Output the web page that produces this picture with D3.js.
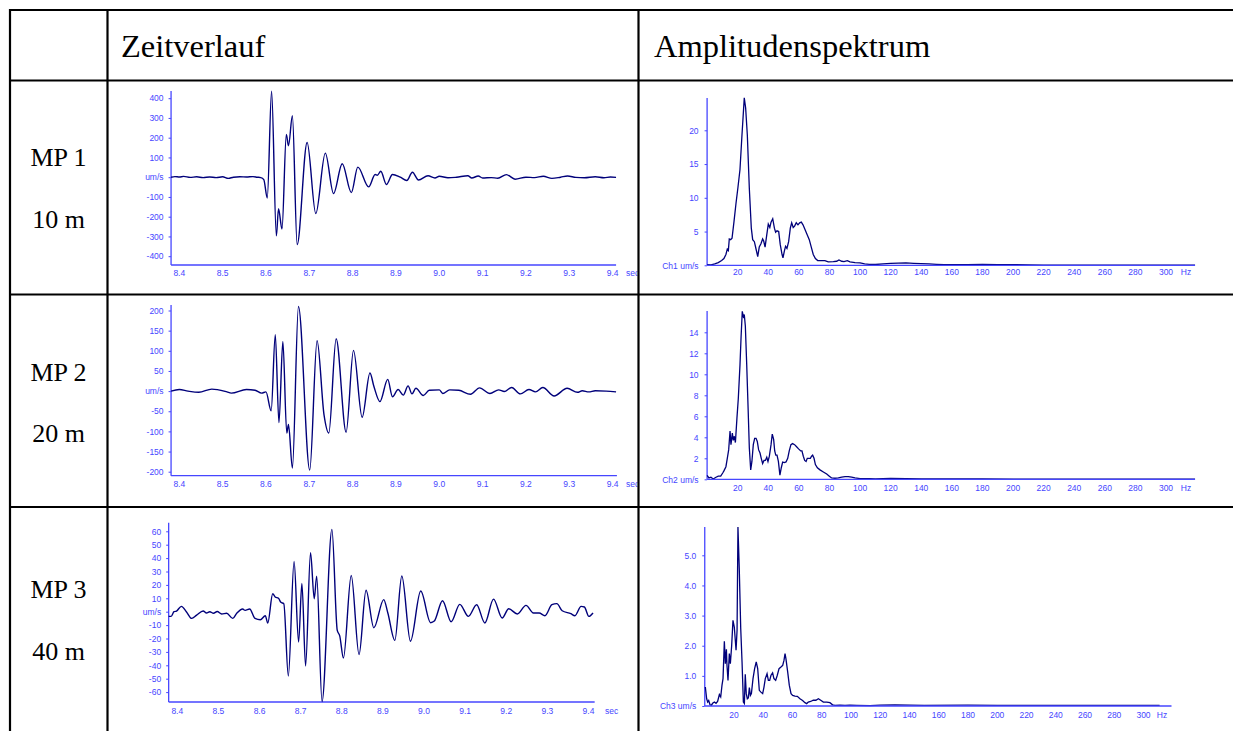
<!DOCTYPE html>
<html><head><meta charset="utf-8">
<script src="https://cdn.jsdelivr.net/npm/d3@7"></script>
<style>body{margin:0;background:#fff}svg{display:block}</style>
</head><body><svg id="c" width="1233" height="731"></svg>
<script>
// ---------- data ----------
const headers = ["Zeitverlauf", "Amplitudenspektrum"];
const rowLabels = ["MP 1", "MP 2", "MP 3"];
const distLabels = ["10 m", "20 m", "40 m"];
const timeTicks = [8.4, 8.5, 8.6, 8.7, 8.8, 8.9, 9.0, 9.1, 9.2, 9.3, 9.4];
const freqTicks = [20, 40, 60, 80, 100, 120, 140, 160, 180, 200, 220, 240, 260, 280, 300];
const velTicks1 = [400, 300, 200, 100, 0, -100, -200, -300, -400];
const velTicks2 = [200, 150, 100, 50, 0, -50, -100, -150, -200];
const velTicks3 = [60, 50, 40, 30, 20, 10, 0, -10, -20, -30, -40, -50, -60];
const ampTicks1 = [20, 15, 10, 5, 0];
const ampTicks2 = [14, 12, 10, 8, 6, 4, 2, 0];
const ampTicks3 = [5, 4, 3, 2, 1, 0];
const channelLabels = ["Ch1 um/s", "Ch2 um/s", "Ch3 um/s"];

const mp1Wave = [[8.381,0],[8.39,3],[8.40,1],[8.41,4],[8.425,-1],[8.44,2],[8.455,-2],[8.47,1],[8.485,-2],[8.50,2],[8.513,-6],[8.525,0],[8.54,2],[8.555,1],[8.57,3],[8.58,0],[8.588,-2],[8.595,-12],[8.603,-105],[8.613,435],[8.624,-297],[8.629,-159],[8.637,-263],[8.647,216],[8.652,159],[8.661,311],[8.672,-341],[8.695,176],[8.715,-184],[8.737,122],[8.756,-83],[8.776,68],[8.797,-78],[8.812,51],[8.837,-49],[8.852,14],[8.857,10],[8.865,30],[8.878,-37],[8.892,14],[8.91,0],[8.925,-17],[8.938,25],[8.952,-14],[8.974,7],[8.99,-4],[9.0,5],[9.02,-3],[9.04,0],[9.066,7],[9.075,-4],[9.09,6],[9.10,-4],[9.12,-2],[9.135,-5],[9.155,13],[9.175,-10],[9.2,0],[9.22,-2],[9.24,5],[9.26,-6],[9.28,0],[9.296,6],[9.315,-1],[9.335,-3],[9.36,2],[9.38,-3],[9.395,1],[9.408,-1]];
const mp2Wave = [[8.381,0],[8.40,4],[8.42,0],[8.445,-3],[8.475,5],[8.51,-2],[8.52,-5],[8.555,4],[8.575,2],[8.59,-5],[8.6,-2],[8.612,-49],[8.6215,140],[8.630,-78],[8.639,123],[8.648,-104],[8.652,-83],[8.661,-191],[8.675,210],[8.701,-196],[8.718,125],[8.734,-59],[8.745,-104],[8.762,130],[8.785,-102],[8.802,101],[8.822,-65],[8.84,45],[8.849,12],[8.863,-26],[8.881,29],[8.892,-14],[8.905,4],[8.917,-10],[8.928,13],[8.937,-7],[8.946,7],[8.963,-11],[8.977,2],[9.0,3],[9.008,-6],[9.024,3],[9.045,2],[9.072,-8],[9.093,8],[9.117,-6],[9.137,3],[9.15,-1],[9.167,9],[9.187,-7],[9.207,4],[9.222,-2],[9.239,9],[9.265,-12],[9.295,7],[9.319,-3],[9.33,1],[9.345,-2],[9.36,1],[9.385,0],[9.408,-2]];
const mp3Wave = [[8.379,-3.5],[8.385,-3.5],[8.392,0],[8.398,0.5],[8.41,4],[8.422,0],[8.435,-5],[8.447,-2.5],[8.463,0.5],[8.471,-1],[8.479,0],[8.488,-1.2],[8.497,0.2],[8.508,-1.7],[8.520,-1.2],[8.535,-5],[8.545,-1],[8.559,2],[8.565,1],[8.576,2],[8.589,-5],[8.602,-6],[8.614,-3],[8.620,-8.5],[8.632,13.4],[8.638,11],[8.646,10],[8.652,7],[8.659,6],[8.670,-48],[8.684,37.5],[8.695,-22.6],[8.703,21],[8.712,-40.5],[8.724,44],[8.733,9.7],[8.739,26.4],[8.752,-67],[8.776,61.4],[8.789,-14],[8.795,-18],[8.804,-34.6],[8.823,27],[8.842,-32],[8.859,16],[8.878,-12],[8.902,9],[8.912,-1],[8.929,-21.4],[8.946,26.6],[8.967,-22],[8.992,15.4],[9.016,-8.2],[9.025,-7],[9.045,8.2],[9.066,-7.5],[9.087,5.5],[9.108,-3.5],[9.128,5.2],[9.148,-8.4],[9.169,9.4],[9.19,-4.7],[9.206,2.2],[9.227,-1.7],[9.248,4.7],[9.266,-1],[9.28,-1],[9.294,-3],[9.311,5.2],[9.323,6],[9.336,0.7],[9.357,-1.5],[9.367,-3],[9.382,4],[9.39,3.5],[9.401,-3.5],[9.411,-1]];

const mp1Spec = [[0,0.1],[2.6,0.05],[5,0.2],[7.3,0.4],[9.5,0.7],[11,1.0],[12.3,1.6],[13.2,2.4],[13.9,2.2],[14.5,3.9],[15.4,3.8],[16.3,4.0],[17.6,6.5],[18.9,9.2],[20.2,11.6],[21.5,14.2],[22.8,19.3],[24.3,24.8],[25.2,23.3],[26.3,19.3],[27.6,11.4],[28.9,5.5],[29.8,3.8],[30.9,3.5],[31.8,2.6],[33.1,1.3],[34.1,2.7],[35.2,3.2],[36.3,3.9],[37,3.6],[37.9,2.7],[39,4.5],[40,6.1],[41,5.6],[41.8,6.4],[42.9,6.9],[44,5.5],[44.8,4.9],[45.7,5.1],[46.8,5.0],[47.8,3.1],[49,1.6],[49.6,1.1],[50.5,2.1],[51.3,2.8],[52.2,2.5],[53.3,3.5],[54.4,5.5],[55.3,6.3],[56.3,5.6],[57.2,5.8],[58.3,6.3],[59.4,6.0],[60.5,6.3],[61.6,6.4],[62.7,6.0],[64,5.3],[65.5,4.5],[66.8,3.8],[68.1,2.7],[69.4,1.6],[70.8,1.0],[72.3,0.7],[74.9,0.7],[77,0.7],[79.2,0.5],[82.5,0.55],[84.7,0.6],[86.2,0.8],[88,0.6],[89.5,0.55],[91.7,0.7],[93.4,0.5],[96.7,0.4],[100,0.35],[103,0.2],[106,0.15],[110,0.12],[115,0.2],[120,0.3],[125,0.32],[130,0.35],[135,0.3],[140,0.25],[145,0.2],[150,0.15],[155,0.1],[160,0.08],[170,0.1],[180,0.12],[190,0.08],[200,0.1],[210,0.05],[220,0.03],[240,0.02],[260,0.02],[280,0.02],[300,0.02],[319,0.02]];
const mp2Spec = [[0,0.38],[1.2,0.13],[2.5,0.2],[4,0.03],[5.8,0.2],[7.3,0.3],[8.9,0.3],[10.2,0.6],[11,0.8],[12.3,1.2],[13.2,2.0],[14.1,2.8],[15,4.6],[15.6,3.3],[16.5,4.4],[17.1,3.7],[17.8,4.1],[18.5,3.5],[19.5,5.8],[20.4,7.7],[21.5,10.9],[22.2,13.5],[23,16.0],[23.7,15.5],[24.3,15.7],[25,14.6],[25.9,10.9],[26.8,6.8],[27.6,3.0],[28.5,0.9],[29.3,1.7],[30.2,3.3],[31.1,3.9],[32,3.9],[32.8,3.6],[33.7,2.8],[34.6,2.5],[35.4,2.0],[36.3,1.5],[37.2,1.8],[38.1,1.8],[39,2.1],[39.8,1.7],[40.7,2.2],[41.8,3.3],[42.6,4.3],[43.5,3.8],[44.2,2.7],[44.9,2.3],[45.7,2.3],[46.6,1.7],[47.6,0.4],[48.5,1.1],[49.4,1.65],[50.5,1.6],[51.6,1.65],[52.7,2.0],[53.7,2.7],[54.8,3.3],[55.9,3.4],[57.2,3.3],[58.5,3.1],[59.8,2.9],[61.2,2.7],[62,2.7],[62.9,2.2],[63.8,1.8],[64.7,1.7],[65.5,2.0],[66.6,2.0],[67.5,2.0],[68.3,2.2],[69,2.3],[69.9,2.0],[70.8,1.4],[72.1,1.1],[73.8,0.9],[76,0.7],[78.2,0.5],[79.9,0.3],[81.4,0.13],[83.6,0.1],[85.8,0.13],[88,0.2],[90.2,0.25],[92.3,0.25],[94.5,0.2],[96.7,0.13],[100,0.06],[106,0.06],[110,0.05],[120,0.08],[130,0.06],[140,0.05],[150,0.05],[160,0.04],[180,0.03],[200,0.02],[250,0.02],[319,0.01]];
const mp3Spec = [[0.4,0.63],[1.3,0.24],[2,0.13],[2.7,0.18],[3.6,0.04],[4.5,0.02],[5.4,0.09],[6.6,0.13],[7.7,0.09],[8.8,0.15],[10,0.38],[10.9,0.3],[11.8,0.69],[12.5,0.91],[13.4,2.15],[14.1,1.4],[14.8,1.88],[15.2,1.35],[15.9,0.85],[16.8,1.74],[17.5,1.4],[18.4,2.0],[19.3,2.84],[20.2,2.62],[21.4,1.85],[22.1,2.51],[22.7,5.94],[23.6,4.56],[24.6,2.57],[25.5,1.46],[26.4,0.13],[27.1,0.08],[27.7,1.05],[28.4,0.41],[29.1,0.24],[29.8,0.27],[30.5,0.61],[31.2,0.35],[31.9,0.41],[33,0.91],[34.1,1.24],[35.2,1.46],[36.2,1.24],[37.3,0.52],[38.4,0.46],[39.6,0.41],[40.5,0.63],[41.4,0.91],[42.6,1.07],[43.5,0.85],[44.4,0.85],[45.3,1.02],[46.4,1.1],[47.3,0.91],[48.5,0.85],[49.6,1.02],[50.8,1.24],[52.1,1.29],[53.3,1.35],[54.2,1.52],[54.9,1.74],[55.5,1.57],[56.7,1.13],[57.8,0.69],[59,0.41],[60.1,0.35],[61.7,0.33],[63.3,0.32],[65.1,0.24],[66.9,0.18],[68.5,0.11],[69.7,0.08],[70.8,0.13],[72.4,0.15],[74.2,0.19],[76,0.19],[77.7,0.24],[79.3,0.19],[81.1,0.13],[83.4,0.13],[85.6,0.11],[87.4,0.04],[89,0.02],[92.5,0.03],[95.9,0.02],[99.3,0.03],[103.9,0.02],[113,0.01],[120,0.03],[130,0.04],[150,0.02],[180,0.03],[200,0.02],[250,0.02],[300,0.02],[311,0.02]];

// ---------- layout ----------
const BLUE = "#4646ff", TRACE = "#00007a";
const svg = d3.select("#c");

const rows = [
  {top: 80.5, bottom: 294.5, mp: 166, dist: 228},
  {top: 294.5, bottom: 507, mp: 381, dist: 442},
  {top: 507, bottom: 760, mp: 598, dist: 660}
];

const timeCharts = [
  {data: mp1Wave, ticks: velTicks1, xr: [179.3, 612.6], yd: [400, -400], yr: [98.2, 256.2], ax: [8.381, 9.408], ay: [91, 265], lab: 275.5, sec: 626},
  {data: mp2Wave, ticks: velTicks2, xr: [179.3, 612.6], yd: [200, -200], yr: [310.5, 471.7], ax: [8.381, 9.41], ay: [305, 475.7], lab: 486.5, sec: 626},
  {data: mp3Wave, ticks: velTicks3, xr: [177.3, 588.5], yd: [60, -60], yr: [531.3, 692.1], ax: [8.379, 9.415], ay: [522.7, 702], lab: 713.5, sec: 605}
];
const specCharts = [
  {data: mp1Spec, ticks: ampTicks1, fmt: d => d, xr: [707.1, 1166], yd: [0, 20], yr: [265.3, 130.3], ax: 1195, top: 98, lab: 275, hz: 1186},
  {data: mp2Spec, ticks: ampTicks2, fmt: d => d, xr: [707.1, 1166], yd: [0, 14], yr: [479.3, 332.3], ax: 1195, top: 311, lab: 490.5, hz: 1186},
  {data: mp3Spec, ticks: ampTicks3, fmt: d => d.toFixed(1), xr: [704.75, 1143.5], yd: [0, 5], yr: [706, 555.3], ax: 1171.5, top: 527, lab: 718, hz: 1162}
];

const defs = svg.append("defs");
rows.forEach((r, i) => {
  defs.append("clipPath").attr("id", "ct" + i).append("rect")
    .attr("x", 108.5).attr("y", r.top).attr("width", 529).attr("height", r.bottom - r.top);
  defs.append("clipPath").attr("id", "cs" + i).append("rect")
    .attr("x", 639.5).attr("y", r.top).attr("width", 600).attr("height", r.bottom - r.top);
});

const tickFont = "Liberation Sans, Arial, sans-serif";

timeCharts.forEach((c, i) => {
  const g = svg.append("g").attr("clip-path", `url(#ct${i})`)
    .attr("font-family", tickFont).attr("font-size", 8.5).attr("fill", BLUE);
  const x = d3.scaleLinear().domain([8.4, 9.4]).range(c.xr);
  const y = d3.scaleLinear().domain(c.yd).range(c.yr);
  const x0 = x(c.ax[0]);
  g.append("line").attr("x1", x0).attr("x2", x0).attr("y1", c.ay[0]).attr("y2", c.ay[1])
    .attr("stroke", BLUE).attr("stroke-width", 1.3);
  g.append("line").attr("x1", x0).attr("x2", x(c.ax[1])).attr("y1", c.ay[1]).attr("y2", c.ay[1])
    .attr("stroke", BLUE).attr("stroke-width", 1.3);
  const yAxis = d3.axisLeft(y).tickValues(c.ticks).tickSize(2.5).tickPadding(5)
    .tickFormat(d => d === 0 ? "um/s" : d);
  const ya = g.append("g").attr("transform", `translate(${x0},0)`).call(yAxis);
  ya.select(".domain").remove();
  ya.selectAll("line").attr("stroke", BLUE);
  ya.selectAll("text").attr("fill", BLUE).attr("font-family", tickFont).attr("font-size", 8.5);
  g.selectAll("text.xt").data(timeTicks).join("text").attr("class", "xt")
    .attr("x", d => x(d)).attr("y", c.lab).attr("text-anchor", "middle")
    .text(d => d.toFixed(1));
  g.append("text").attr("x", c.sec).attr("y", c.lab).text("sec");
  const line = d3.line().x(d => x(d[0])).y(d => y(d[1])).curve(d3.curveMonotoneX);
  g.append("path").datum(c.data).attr("d", line).attr("fill", "none")
    .attr("stroke", TRACE).attr("stroke-width", 1.4);
});

specCharts.forEach((c, i) => {
  const g = svg.append("g").attr("clip-path", `url(#cs${i})`)
    .attr("font-family", tickFont).attr("font-size", 8.5).attr("fill", BLUE);
  const x = d3.scaleLinear().domain([0, 300]).range(c.xr);
  const y = d3.scaleLinear().domain(c.yd).range(c.yr);
  const x0 = x(0), y0 = y(0);
  g.append("line").attr("x1", x0).attr("x2", x0).attr("y1", c.top).attr("y2", y0)
    .attr("stroke", BLUE).attr("stroke-width", 1.3);
  const yAxis = d3.axisLeft(y).tickValues(c.ticks).tickSize(2.5).tickPadding(6)
    .tickFormat(d => d === 0 ? channelLabels[i] : c.fmt(d));
  const ya = g.append("g").attr("transform", `translate(${x0},0)`).call(yAxis);
  ya.select(".domain").remove();
  ya.selectAll("line").attr("stroke", BLUE);
  ya.selectAll("text").attr("fill", BLUE).attr("font-family", tickFont).attr("font-size", 8.5);
  g.selectAll("text.xt").data(freqTicks).join("text").attr("class", "xt")
    .attr("x", d => x(d)).attr("y", c.lab).attr("text-anchor", "middle").text(d => d);
  g.append("text").attr("x", c.hz).attr("y", c.lab).attr("text-anchor", "middle").text("Hz");
  const line = d3.line().x(d => x(d[0])).y(d => y(d[1]));
  g.append("path").datum(c.data).attr("d", line).attr("fill", "none")
    .attr("stroke", TRACE).attr("stroke-width", 1.3);
  g.append("line").attr("x1", x0).attr("x2", c.ax).attr("y1", y0).attr("y2", y0)
    .attr("stroke", BLUE).attr("stroke-width", 1.3);
});

// ---------- table ----------
const serif = "Liberation Serif, Times New Roman, serif";
svg.append("text").attr("x", 121).attr("y", 57).attr("font-family", serif).attr("font-size", 32.5).text(headers[0]);
svg.append("text").attr("x", 654).attr("y", 57).attr("font-family", serif).attr("font-size", 32.5).text(headers[1]);
rows.forEach((r, i) => {
  svg.append("text").attr("x", 58.5).attr("y", r.mp).attr("text-anchor", "middle")
    .attr("font-family", serif).attr("font-size", 26).text(rowLabels[i]);
  svg.append("text").attr("x", 58.5).attr("y", r.dist).attr("text-anchor", "middle")
    .attr("font-family", serif).attr("font-size", 26).text(distLabels[i]);
});
const tl = svg.append("g").attr("stroke", "#000").attr("stroke-width", 2.2);
[10, 80.5, 294.5, 507].forEach(yy => tl.append("line").attr("x1", 9).attr("x2", 1233).attr("y1", yy).attr("y2", yy));
[10, 107.5, 638.5].forEach(xx => tl.append("line").attr("x1", xx).attr("x2", xx).attr("y1", 9).attr("y2", 731));
</script></body></html>
